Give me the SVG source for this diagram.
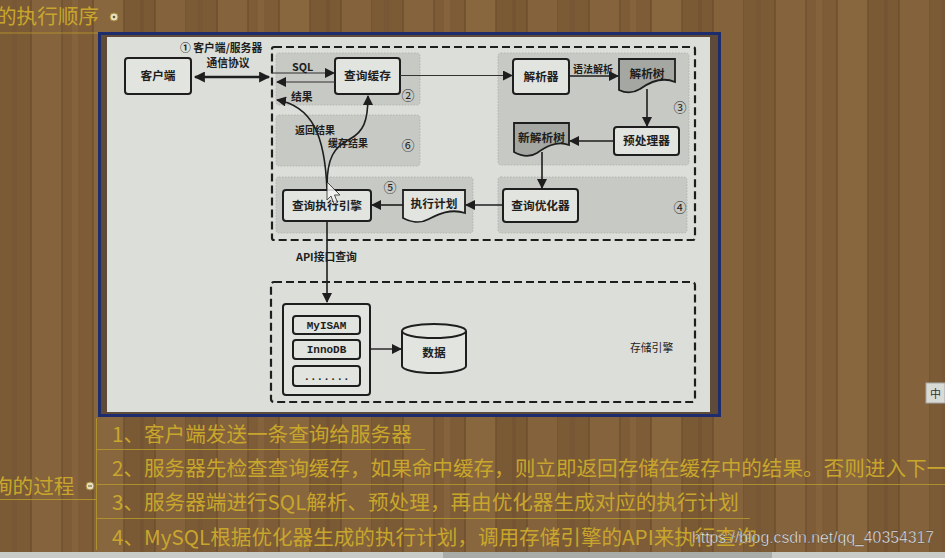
<svg xmlns="http://www.w3.org/2000/svg" width="945" height="558" viewBox="0 0 945 558">
<defs>
<pattern id="wood" patternUnits="userSpaceOnUse" width="186" height="558">
<rect x="0" y="0" width="186" height="558" fill="#7f5e39"/>
<rect x="0" y="0" width="31" height="558" fill="#7b5a36"/>
<rect x="31" y="0" width="31" height="558" fill="#84633d"/>
<rect x="62" y="0" width="31" height="558" fill="#7d5c37"/>
<rect x="93" y="0" width="31" height="558" fill="#88673f"/>
<rect x="124" y="0" width="31" height="558" fill="#7a5935"/>
<rect x="155" y="0" width="31" height="558" fill="#83623c"/>
<rect x="30" y="0" width="2" height="558" fill="#6b4d2e" opacity="0.7"/>
<rect x="61" y="0" width="2" height="558" fill="#6b4d2e" opacity="0.6"/>
<rect x="92" y="0" width="2" height="558" fill="#6b4d2e" opacity="0.7"/>
<rect x="123" y="0" width="2" height="558" fill="#6b4d2e" opacity="0.6"/>
<rect x="154" y="0" width="2" height="558" fill="#6b4d2e" opacity="0.7"/>
<rect x="185" y="0" width="1" height="558" fill="#6b4d2e" opacity="0.6"/>
<rect x="12" y="0" width="5" height="558" fill="#735333" opacity="0.5"/>
<rect x="72" y="0" width="6" height="558" fill="#8d6b44" opacity="0.5"/>
<rect x="140" y="0" width="4" height="558" fill="#6f5031" opacity="0.5"/>
</pattern>
<marker id="ah" viewBox="0 0 10 10" refX="9" refY="5" markerWidth="10" markerHeight="10" markerUnits="userSpaceOnUse" orient="auto-start-reverse">
<path d="M0,0 L10,5 L0,10 Z" fill="#1e1e1e"/>
</marker>
<marker id="ahb" viewBox="0 0 10 10" refX="9" refY="5" markerWidth="12" markerHeight="11" markerUnits="userSpaceOnUse" orient="auto-start-reverse">
<path d="M0,0 L10,5 L0,10 Z" fill="#1e1e1e"/>
</marker>
<style>
.gold{font-family:"Noto Sans CJK SC","Noto Sans",sans-serif;font-size:20.6px;fill:#c8a62c;}
.gl{stroke:#b7982c;stroke-width:1;fill:none;opacity:0.85;}
.sec{fill:#c6c9c4;stroke:#b3b6b1;stroke-width:1;stroke-dasharray:1.5 1.5;}
.box{fill:#e1e4df;stroke:#1e1e1e;stroke-width:2;}
.doc{stroke:#1e1e1e;stroke-width:1.8;}
.dash{fill:none;stroke:#1e1e1e;stroke-width:2.2;stroke-dasharray:8 4;}
.t{font-family:"Noto Sans CJK SC","Noto Sans",sans-serif;font-size:11.7px;font-weight:bold;fill:#1e1e1e;text-anchor:middle;}
.s{font-family:"Noto Sans CJK SC","Noto Sans",sans-serif;font-size:10.8px;font-weight:bold;fill:#1e1e1e;}
.n{font-family:"Noto Sans CJK SC","DejaVu Sans",sans-serif;font-size:13px;fill:#1e1e1e;text-anchor:middle;}
.m{font-family:"Liberation Mono",monospace;font-size:11px;font-weight:bold;fill:#1e1e1e;text-anchor:middle;}
.c{fill:none;stroke:#1e1e1e;stroke-width:1.6;}
</style>
</defs>

<!-- wood background -->
<rect x="0" y="0" width="945" height="558" fill="url(#wood)"/>

<!-- mind-map text -->
<g id="mindmap">
<text class="gold" x="-4" y="24">的执行顺序</text>
<circle cx="114" cy="17" r="4" fill="#e6dfc3" stroke="#a88c3a" stroke-width="1"/>
<circle cx="114" cy="17" r="1.3" fill="#6a5a2a"/>
<line class="gl" x1="0" y1="33" x2="99" y2="33"/>
<text class="gold" x="-8" y="494">询的过程</text>
<line class="gl" x1="0" y1="499.5" x2="96" y2="499.5"/>
<circle cx="90" cy="486" r="4" fill="#e6dfc3" stroke="#a88c3a" stroke-width="1"/>
<line x1="88" y1="486" x2="92" y2="486" stroke="#6a5a2a" stroke-width="1"/>
<line class="gl" x1="96.5" y1="418" x2="96.5" y2="550"/>
<line class="gl" x1="96" y1="449.5" x2="425" y2="449.5"/>
<line class="gl" x1="96" y1="484.5" x2="945" y2="484.5"/>
<line class="gl" x1="96" y1="518.5" x2="750" y2="518.5"/>
<text class="gold" x="112" y="442">1、客户端发送一条查询给服务器</text>
<text class="gold" x="112" y="476">2、服务器先检查查询缓存，如果命中缓存，则立即返回存储在缓存中的结果。否则进入下一</text>
<text class="gold" x="112" y="510">3、服务器端进行SQL解析、预处理，再由优化器生成对应的执行计划</text>
<text class="gold" x="112" y="545">4、MySQL根据优化器生成的执行计划，调用存储引擎的API来执行查询</text>
</g>

<!-- picture frame -->
<g id="frame">
<rect x="99.5" y="33.5" width="620" height="382" fill="#5e4a38" stroke="#1c2c6c" stroke-width="3"/>
<rect x="107" y="37" width="603" height="375" fill="#dcdfd9"/>
</g>

<!-- sections -->
<g id="server" >
<rect class="sec" x="276" y="53" width="144" height="52" rx="3"/>
<rect class="sec" x="276" y="115" width="144" height="51" rx="3"/>
<rect class="sec" x="276" y="177" width="197" height="56" rx="3"/>
<rect class="sec" x="498" y="53" width="191" height="112" rx="3"/>
<rect class="sec" x="498" y="177" width="189" height="56" rx="3"/>
<rect class="dash" x="272" y="47" width="423" height="193" rx="2"/>
<text class="n" x="408" y="100">②</text>
<text class="n" x="408" y="150">⑥</text>
<text class="n" x="390" y="192">⑤</text>
<text class="n" x="680" y="112">③</text>
<text class="n" x="680" y="212">④</text>
</g>

<g id="client">
<rect class="box" x="125" y="58" width="66" height="36" rx="3"/>
<text class="t" x="158" y="80">客户端</text>
</g>
<g id="query-cache">
<rect class="box" x="335" y="58" width="65" height="36" rx="3"/>
<text class="t" x="367.5" y="80">查询缓存</text>
</g>
<g id="parser">
<rect class="box" x="513" y="59" width="56" height="35" rx="3"/>
<text class="t" x="541" y="81">解析器</text>
</g>
<g id="parse-tree">
<path class="doc" fill="#a4a7a2" d="M619,59 H675 V82 C661,76 647,84 640,89 C632,94 625,93 619,90 Z"/>
<text class="t" x="647" y="78">解析树</text>
</g>
<g id="preprocessor">
<rect class="box" x="614" y="127" width="65" height="28" rx="3"/>
<text class="t" x="646.5" y="145">预处理器</text>
</g>
<g id="new-parse-tree">
<path class="doc" fill="#a4a7a2" d="M514,123 H569 V145 C556,140 544,148 537,153 C529,158 521,156 514,152 Z"/>
<text class="t" x="541.5" y="142">新解析树</text>
</g>
<g id="optimizer">
<rect class="box" x="503" y="189" width="75" height="33" rx="3"/>
<text class="t" x="540.5" y="210">查询优化器</text>
</g>
<g id="exec-plan">
<path class="doc" fill="#e1e4df" d="M403,190 H465 V213 C450,208 437,215 429,219 C420,224 410,222 403,218 Z"/>
<text class="t" x="434" y="208">执行计划</text>
</g>
<g id="exec-engine">
<rect class="box" x="283" y="190" width="88" height="31" rx="3"/>
<text class="t" x="327" y="210">查询执行引擎</text>
</g>

<g id="storage">
<rect class="dash" x="271" y="282" width="424" height="120" rx="3"/>
<text class="s" x="630" y="352" style="font-weight:normal">存储引擎</text>
</g>
<g id="engines">
<rect class="box" x="283" y="304" width="87" height="91" rx="3"/>
<rect class="box" x="293" y="316" width="67" height="18" rx="3" stroke-width="1.8"/>
<text class="m" x="326.5" y="329">MyISAM</text>
<rect class="box" x="293" y="340" width="67" height="19" rx="3" stroke-width="1.8"/>
<text class="m" x="326.5" y="353">InnoDB</text>
<rect class="box" x="293" y="366" width="67" height="20" rx="3" stroke-width="1.8"/>
<text class="m" x="326.5" y="380">.......</text>
</g>
<g id="data">
<path d="M402,331 V366 A32,7 0 0 0 466,366 V331" fill="#e1e4df" stroke="#1e1e1e" stroke-width="2"/>
<ellipse cx="434" cy="331" rx="32" ry="7" fill="#e1e4df" stroke="#1e1e1e" stroke-width="2"/>
<text class="t" x="434" y="357">数据</text>
</g>

<!-- connectors -->
<g id="connectors">
<line x1="195" y1="77" x2="269" y2="77" stroke="#1e1e1e" stroke-width="2.6" marker-start="url(#ahb)" marker-end="url(#ahb)"/>
<line x1="272" y1="73" x2="334" y2="73" stroke="#333" stroke-width="1.2" marker-end="url(#ah)"/>
<line x1="335" y1="82" x2="277" y2="82" stroke="#333" stroke-width="1.2" marker-end="url(#ah)"/>
<line x1="400" y1="75.5" x2="512" y2="75.5" stroke="#333" stroke-width="1.2" marker-end="url(#ah)"/>
<line x1="569" y1="76" x2="618" y2="76" stroke="#1e1e1e" stroke-width="1.4" marker-end="url(#ah)"/>
<line x1="647" y1="89" x2="647" y2="126" stroke="#1e1e1e" stroke-width="1.6" marker-end="url(#ah)"/>
<line x1="614" y1="141" x2="570" y2="141" stroke="#1e1e1e" stroke-width="1.6" marker-end="url(#ah)"/>
<line x1="542" y1="152" x2="542" y2="188" stroke="#1e1e1e" stroke-width="1.6" marker-end="url(#ah)"/>
<line x1="503" y1="205" x2="466" y2="205" stroke="#1e1e1e" stroke-width="1.6" marker-end="url(#ah)"/>
<line x1="403" y1="205" x2="372" y2="205" stroke="#1e1e1e" stroke-width="1.6" marker-end="url(#ah)"/>
<path class="c" d="M327,190 C325,135 312,106 277,100" marker-end="url(#ah)"/>
<path class="c" d="M327,186 C327,158 334,147 350,139 C363,132 368,122 368,96" marker-end="url(#ah)"/>
<line x1="327" y1="221" x2="327" y2="302" stroke="#1e1e1e" stroke-width="1.6" marker-end="url(#ah)"/>
<line x1="370" y1="349" x2="401" y2="349" stroke="#1e1e1e" stroke-width="1.4" marker-end="url(#ah)"/>
</g>

<g id="labels">
<text class="s" x="180" y="52">① 客户端/服务器</text>
<text class="s" x="228" y="67" text-anchor="middle">通信协议</text>
<text class="s" x="292" y="71" font-family="Liberation Sans,sans-serif">SQL</text>
<text class="s" x="291" y="101">结果</text>
<text class="s" x="295" y="134" style="font-size:10px">返回结果</text>
<text class="s" x="328" y="147" style="font-size:10px">缓存结果</text>
<text class="s" x="573" y="73" style="font-size:10px">语法解析</text>
<text class="s" x="296" y="261">API接口查询</text>
</g>

<!-- mouse cursor -->
<polygon points="327,182 327,200 331,196 334,204 337.5,202.5 334.5,195 340,195" fill="#f4f4f4" stroke="#222" stroke-width="0.9" opacity="0.85"/>

<!-- watermark -->
<text x="692" y="543" font-family="Liberation Sans,Arial,sans-serif" font-size="16" fill="#f2f2f2" stroke="#4a3a2a" stroke-width="0.4" textLength="242" lengthAdjust="spacingAndGlyphs">https://blog.csdn.net/qq_40354317</text>

<!-- scrollbar -->
<rect x="0" y="552" width="945" height="6" fill="#c9cbc8"/>
<rect x="443" y="552" width="329" height="6" fill="#a9aba8"/>

<!-- IME indicator -->
<rect x="926" y="383" width="19" height="20" fill="#d8dad6" stroke="#a8a8a8" stroke-width="1"/>
<text x="935.5" y="397.5" font-family="Noto Sans CJK SC,sans-serif" font-size="11" fill="#333" text-anchor="middle">中</text>
</svg>
